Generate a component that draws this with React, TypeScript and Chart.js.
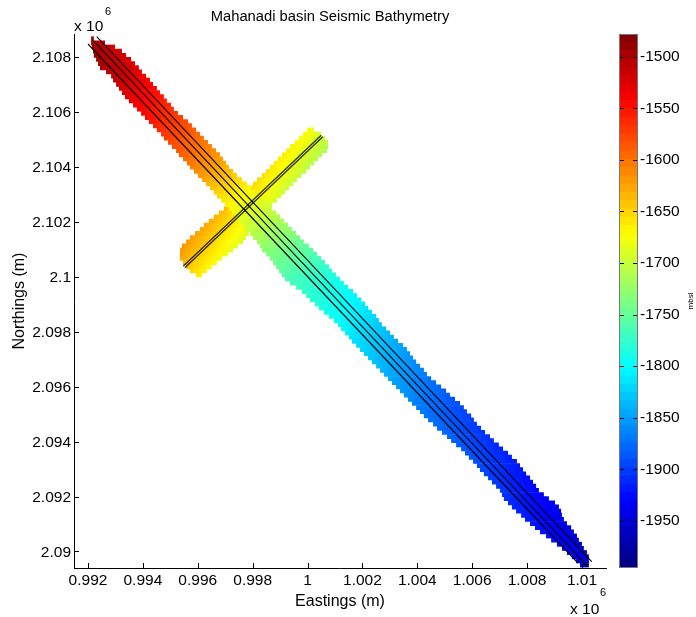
import React, { useEffect, useRef } from "react";
import { Chart, registerables } from "chart.js";

Chart.register(...registerables);

const FONT = '"Liberation Sans", Arial, sans-serif';

const titleText = "Mahanadi basin Seismic Bathymetry";
const xTitle = "Eastings (m)";
const yTitle = "Northings (m)";
const colorbarUnit = "mbsl";

const eastTicks = [992000, 994000, 996000, 998000, 1000000, 1002000, 1004000, 1006000, 1008000, 1010000];
const northTicks = [2090000, 2092000, 2094000, 2096000, 2098000, 2100000, 2102000, 2104000, 2106000, 2108000];
const colorbarTicks = [-1500, -1550, -1600, -1650, -1700, -1750, -1800, -1850, -1900, -1950];

const DEPTH_MIN = -1995.6;
const DEPTH_MAX = -1478;

// Main NW-SE swath: one raster row per northing, with its west and east limits and depth.
const mainNorth = [2108650,2108500,2108350,2108200,2108050,2107900,2107750,2107600,2107450,2107300,2107150,2107000,2106850,2106700,2106550,2106400,2106250,2106100,2105950,2105800,2105650,2105500,2105350,2105200,2105050,2104900,2104750,2104600,2104450,2104300,2104150,2104000,2103850,2103700,2103550,2103400,2103250,2103100,2102950,2102800,2102650,2102500,2102350,2102200,2102050,2101900,2101750,2101600,2101450,2101300,2101150,2101000,2100850,2100700,2100550,2100400,2100250,2100100,2099950,2099800,2099650,2099500,2099350,2099200,2099050,2098900,2098750,2098600,2098450,2098300,2098150,2098000,2097850,2097700,2097550,2097400,2097250,2097100,2096950,2096800,2096650,2096500,2096350,2096200,2096050,2095900,2095750,2095600,2095450,2095300,2095150,2095000,2094850,2094700,2094550,2094400,2094250,2094100,2093950,2093800,2093650,2093500,2093350,2093200,2093050,2092900,2092750,2092600,2092450,2092300,2092150,2092000,2091850,2091700,2091550,2091400,2091250,2091100,2090950,2090800,2090650,2090500,2090350,2090200,2090050,2089900,2089750,2089600];
const mainWest = [992280,992280,992310,992350,992380,992460,992530,992600,992820,993000,993070,993180,993280,993390,993500,993640,993790,993930,994080,994220,994360,994510,994650,994800,994900,995050,995190,995340,995440,995590,995730,995840,995980,996130,996270,996420,996560,996700,996810,996960,997100,997240,997350,997500,997600,997750,997860,998000,998110,998250,998360,998430,998580,998720,998830,998940,999040,999150,999260,999440,999660,999870,1000020,1000160,1000340,1000480,1000660,1000840,1001020,1001170,1001280,1001420,1001560,1001670,1001820,1001960,1002100,1002250,1002390,1002540,1002680,1002820,1002970,1003110,1003260,1003400,1003540,1003690,1003830,1003980,1004120,1004260,1004410,1004590,1004730,1004910,1005090,1005240,1005420,1005600,1005740,1005880,1006030,1006170,1006280,1006420,1006570,1006710,1006860,1007000,1007070,1007140,1007290,1007430,1007580,1007760,1007900,1008080,1008260,1008440,1008660,1008840,1009050,1009230,1009410,1009590,1009740,1009880];
const mainEast = [992380,992780,993140,993390,993540,993720,993860,994000,994110,994260,994400,994510,994650,994760,994900,995010,995160,995260,995410,995590,995770,995910,996060,996200,996340,996490,996630,996780,996920,997030,997140,997240,997390,997530,997710,997890,998040,998180,998320,998470,998650,998790,998940,999080,999220,999370,999510,999660,999800,999940,1000120,1000270,1000410,1000560,1000700,1000840,1000950,1001100,1001240,1001380,1001530,1001710,1001850,1002000,1002140,1002250,1002390,1002540,1002640,1002750,1002900,1003040,1003180,1003330,1003510,1003650,1003760,1003870,1003980,1004120,1004260,1004370,1004520,1004700,1004880,1005060,1005200,1005380,1005560,1005700,1005810,1005960,1006060,1006170,1006320,1006460,1006640,1006780,1006960,1007110,1007290,1007430,1007610,1007720,1007830,1007940,1008080,1008190,1008300,1008400,1008580,1008760,1008980,1009120,1009200,1009230,1009300,1009410,1009560,1009660,1009770,1009840,1009950,1010020,1010130,1010200,1010200,1010200];
const mainDepth = [-1507,-1507,-1508,-1508,-1509,-1510,-1512,-1515,-1518,-1522,-1525,-1529,-1533,-1538,-1542,-1546,-1550,-1554,-1558,-1562,-1567,-1572,-1577,-1582,-1587,-1592,-1596,-1600,-1605,-1610,-1616,-1621,-1626,-1633,-1641,-1648,-1655,-1661,-1667,-1674,-1681,-1687,-1693,-1698,-1704,-1710,-1716,-1721,-1727,-1733,-1739,-1745,-1749,-1754,-1758,-1763,-1767,-1772,-1777,-1780,-1784,-1788,-1791,-1794,-1797,-1800,-1804,-1808,-1812,-1816,-1819,-1823,-1827,-1830,-1834,-1837,-1840,-1843,-1846,-1849,-1852,-1855,-1859,-1862,-1865,-1868,-1871,-1875,-1878,-1881,-1883,-1885,-1886,-1888,-1890,-1892,-1893,-1895,-1897,-1899,-1901,-1902,-1904,-1906,-1908,-1910,-1912,-1914,-1916,-1917,-1919,-1921,-1923,-1925,-1927,-1928,-1930,-1932,-1934,-1936,-1938,-1940,-1942,-1944,-1947,-1949,-1951,-1954];
const mainAcrossDrop = 30; // the sea floor deepens about this much from a row's west end to its east end

// SW-NE cross swath.
const crossNorth = [2105350,2105200,2105050,2104900,2104750,2104600,2104450,2104300,2104150,2104000,2103850,2103700,2103550,2103400,2103250,2103100,2102950,2102800,2102650,2102500,2102350,2102200,2102050,2101900,2101750,2101600,2101450,2101300,2101150,2101000,2100850,2100700,2100550,2100400,2100250,2100100];
const crossWest = [1000050,999910,999760,999620,999440,999300,999150,999010,998860,998720,998580,998430,998250,998110,997930,997750,997570,997390,997240,997060,996880,996700,996520,996340,996200,996020,995840,995700,995550,995480,995480,995480,995590,995700,995840,996060];
const crossEast = [1000300,1000560,1000700,1000810,1000810,1000770,1000590,1000450,1000300,1000160,1000020,999840,999690,999550,999400,999260,999120,998970,998790,998650,998540,998430,998320,998180,998070,997960,997860,997750,997570,997390,997210,996990,996810,996630,996450,996270];
const crossDepthWest = [-1673,-1671,-1670,-1668,-1666,-1664,-1663,-1662,-1661,-1659,-1657,-1656,-1654,-1652,-1650,-1647,-1644,-1642,-1641,-1638,-1636,-1633,-1630,-1628,-1626,-1624,-1622,-1620,-1618,-1620,-1623,-1627,-1634,-1641,-1649,-1660];
const crossDepthEast = [-1681,-1693,-1701,-1708,-1712,-1714,-1712,-1710,-1709,-1707,-1705,-1703,-1703,-1701,-1700,-1698,-1696,-1695,-1693,-1691,-1692,-1691,-1691,-1690,-1689,-1689,-1690,-1689,-1686,-1684,-1681,-1678,-1675,-1673,-1670,-1668];

// Seismic lines, [east, north] end points.
const mainLineA = [[992481, 2108724], [1010301, 2089719]];
const mainLineB = [[992337, 2108605], [1010168, 2089538]];
const mainLineC = [[992168, 2108460], [1009808, 2089672]];
const crossLineA = [[995595, 2100416], [1000563, 2105158]];
const crossLineB = [[995653, 2100358], [1000621, 2105100]];

// Grid-to-axis calibration of the readings above.
const eastOf = (e: number) => 988793 + (e - 989000) * 1.01222;
const northOf = (n: number) => 2108000 - (2108000 - n) * 1.00497;

function jet(v: number) {
  const t = Math.min(1, Math.max(0, (v - DEPTH_MIN) / (DEPTH_MAX - DEPTH_MIN)));
  const ch = (c: number) => Math.round(255 * Math.min(1, Math.max(0, 1.5 - Math.abs(4 * t - c))));
  return `rgb(${ch(3)},${ch(2)},${ch(1)})`;
}

function rowDataset(n: number, w: number, e: number, dW: number, dE: number, order: number) {
  const x0 = eastOf(w);
  const x1 = eastOf(e);
  return {
    data: [{ x: x0, y: northOf(n) }, { x: x1, y: northOf(n) }],
    showLine: true,
    pointRadius: 0,
    borderWidth: 4.8,
    borderCapStyle: "butt",
    order,
    borderColor: (c: any) => {
      const sx = c.chart.scales.x;
      if (!sx) return "transparent";
      const a = sx.getPixelForValue(x0);
      const b = sx.getPixelForValue(x1);
      if (!isFinite(a) || !isFinite(b)) return "transparent";
      const g = c.chart.ctx.createLinearGradient(a, 0, b + 0.01, 0);
      for (let k = 0; k <= 4; k++) g.addColorStop(k / 4, jet(dW + ((dE - dW) * k) / 4));
      return g;
    },
  };
}

function lineDataset(pts: number[][], color: string, width: number) {
  return {
    data: pts.map(([x, y]) => ({ x: eastOf(x), y: northOf(y) })),
    showLine: true,
    pointRadius: 0,
    borderColor: color,
    borderWidth: width,
    order: 0,
  };
}

const inwardTicks = (axes: { id: string; sides: ("start" | "end")[] }[]) => ({
  id: "inwardTicks",
  afterDatasetsDraw(chart: any) {
    const { ctx, chartArea: a } = chart;
    ctx.save();
    ctx.strokeStyle = "#000";
    ctx.lineWidth = 1;
    for (const { id, sides } of axes) {
      const s = chart.scales[id];
      for (const t of s.ticks) {
        const p = Math.round(s.getPixelForValue(t.value)) + 0.5;
        ctx.beginPath();
        for (const side of sides) {
          if (s.isHorizontal()) {
            ctx.moveTo(p, a.bottom);
            ctx.lineTo(p, a.bottom - 5);
          } else if (side === "start") {
            ctx.moveTo(a.left, p);
            ctx.lineTo(a.left + 5, p);
          } else {
            ctx.moveTo(a.right, p);
            ctx.lineTo(a.right - 5, p);
          }
        }
        ctx.stroke();
      }
    }
    ctx.restore();
  },
});

const exponentLabels = {
  id: "exponentLabels",
  afterDraw(chart: any) {
    const { ctx, chartArea: a } = chart;
    ctx.save();
    ctx.fillStyle = "#000";
    ctx.textBaseline = "alphabetic";
    ctx.textAlign = "left";
    ctx.font = `15.5px ${FONT}`;
    ctx.fillText("x 10", a.left, a.top - 3);
    ctx.fillText("x 10", a.right - 36, a.bottom + 46);
    ctx.font = `11px ${FONT}`;
    ctx.fillText("6", a.left + 31, a.top - 19);
    ctx.fillText("6", a.right - 6, a.bottom + 28);
    ctx.translate(20, (a.top + a.bottom) / 2);
    ctx.rotate(-Math.PI / 2);
    ctx.textAlign = "center";
    ctx.textBaseline = "middle";
    ctx.font = `16px ${FONT}`;
    ctx.fillText(yTitle, 0, 0);
    ctx.restore();
  },
};

const colorbarFrame = {
  id: "colorbarFrame",
  afterDatasetsDraw(chart: any) {
    const { ctx, chartArea: a } = chart;
    ctx.save();
    ctx.strokeStyle = "#777";
    ctx.lineWidth = 1;
    ctx.strokeRect(a.left + 0.5, a.top + 0.5, a.right - a.left - 1, a.bottom - a.top - 1);
    ctx.restore();
  },
  afterDraw(chart: any) {
    const { ctx, chartArea: a } = chart;
    ctx.save();
    ctx.translate(a.right + 53, (a.top + a.bottom) / 2);
    ctx.rotate(-Math.PI / 2);
    ctx.fillStyle = "#000";
    ctx.textAlign = "center";
    ctx.textBaseline = "middle";
    ctx.font = `8px ${FONT}`;
    ctx.fillText(colorbarUnit, 0, 0);
    ctx.restore();
  },
};

export default function App() {
  const mainRef = useRef<HTMLCanvasElement>(null);
  const barRef = useRef<HTMLCanvasElement>(null);

  useEffect(() => {
    const tickFont = { family: FONT, size: 15.5 };
    const datasets: any[] = [
      lineDataset(mainLineA, "#000", 1.1),
      lineDataset(mainLineB, "#000", 1.1),
      lineDataset(mainLineC, "#000", 1.1),
      lineDataset(crossLineA, "rgba(0,0,0,0.8)", 1.3),
      lineDataset(crossLineB, "rgba(0,0,0,0.8)", 1.3),
      ...mainNorth.map((n, i) =>
        rowDataset(n, mainWest[i], mainEast[i], mainDepth[i] + mainAcrossDrop / 2, mainDepth[i] - mainAcrossDrop / 2, 1)
      ),
      ...crossNorth.map((n, i) => rowDataset(n, crossWest[i], crossEast[i], crossDepthWest[i], crossDepthEast[i], 2)),
    ];

    const main = new Chart(mainRef.current!, {
      type: "scatter",
      data: { datasets },
      plugins: [inwardTicks([{ id: "x", sides: ["start"] }, { id: "y", sides: ["start"] }]), exponentLabels],
      options: {
        animation: false,
        responsive: false,
        events: [],
        plugins: {
          legend: { display: false },
          tooltip: { enabled: false },
          title: {
            display: true,
            text: titleText,
            color: "#000",
            font: { family: FONT, size: 14.75, weight: "normal", lineHeight: 1.2 },
            padding: { top: 8, bottom: 8.3 },
          },
        },
        scales: {
          x: {
            type: "linear",
            min: 991490,
            max: 1010876,
            afterBuildTicks: (s: any) => { s.ticks = eastTicks.map((value) => ({ value })); },
            afterFit: (s: any) => { s.height = 49; },
            grid: { display: false, drawTicks: false },
            border: { display: true, color: "#000", width: 1 },
            ticks: {
              color: "#000",
              font: tickFont,
              padding: 3,
              maxRotation: 0,
              autoSkip: false,
              callback: (v: any) => String(Number(v) / 1e6),
            },
            title: { display: true, text: xTitle, color: "#000", font: { family: FONT, size: 16 }, padding: { top: 0, bottom: 6 } },
          },
          y: {
            type: "linear",
            min: 2089399,
            max: 2108826,
            afterBuildTicks: (s: any) => { s.ticks = northTicks.map((value) => ({ value })); },
            afterFit: (s: any) => { s.width = 74; },
            grid: { display: false, drawTicks: false },
            border: { display: true, color: "#000", width: 1 },
            ticks: {
              color: "#000",
              font: tickFont,
              padding: 3,
              labelOffset: 1,
              autoSkip: false,
              callback: (v: any) => String(Number(v) / 1e6),
            },
          },
          // Empty right-hand axis: keeps the plot narrower than the full-width title.
          yRight: {
            type: "linear",
            position: "right",
            afterFit: (s: any) => { s.width = 54; },
            grid: { display: false, drawTicks: false },
            border: { display: false },
            ticks: { display: false },
          },
        },
      } as any,
    } as any);

    const levels = 64;
    const step = (DEPTH_MAX - DEPTH_MIN) / levels;
    const bandDatasets = Array.from({ length: levels }, (_, i) => ({
      data: [[DEPTH_MIN + i * step, DEPTH_MIN + (i + 1) * step + 0.3]],
      backgroundColor: jet(DEPTH_MIN + (i + 0.5) * step),
      barPercentage: 1,
      categoryPercentage: 1,
    }));
    const bar = new Chart(barRef.current!, {
      type: "bar",
      data: { labels: [colorbarUnit], datasets: bandDatasets },
      plugins: [inwardTicks([{ id: "y", sides: ["start", "end"] }]), colorbarFrame],
      options: {
        animation: false,
        responsive: false,
        events: [],
        layout: { padding: { left: 19, top: 34, bottom: 49 } },
        plugins: { legend: { display: false }, tooltip: { enabled: false } },
        scales: {
          x: { stacked: true, display: false },
          y: {
            position: "right",
            min: DEPTH_MIN,
            max: DEPTH_MAX,
            afterBuildTicks: (s: any) => { s.ticks = colorbarTicks.map((value) => ({ value })); },
            afterFit: (s: any) => { s.width = 58; },
            grid: { display: false, drawTicks: false },
            border: { display: false },
            ticks: { color: "#000", font: tickFont, padding: 2, autoSkip: false, callback: (v: any) => String(v) },
          },
        },
      } as any,
    } as any);

    return () => {
      main.destroy();
      bar.destroy();
    };
  }, []);

  return (
    <div style={{ position: "absolute", left: 0, top: 0, width: 696, height: 617, background: "#fff", overflow: "hidden" }}>
      <canvas ref={mainRef} width={660} height={617} style={{ position: "absolute", left: 0, top: 0 }} />
      <canvas ref={barRef} width={96} height={617} style={{ position: "absolute", left: 600, top: 0 }} />
    </div>
  );
}
